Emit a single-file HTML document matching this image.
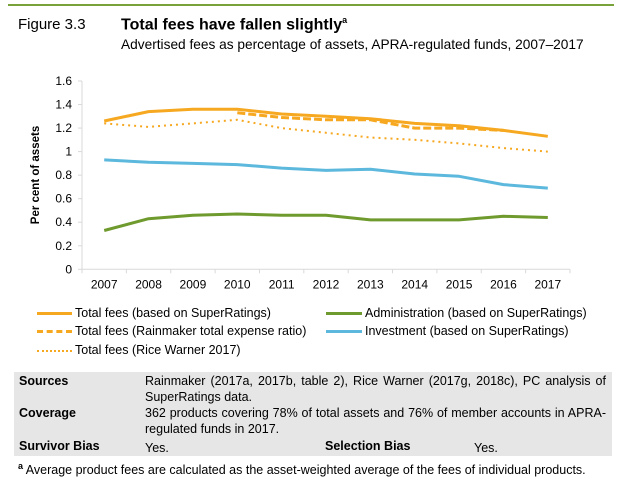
<!DOCTYPE html>
<html><head><meta charset="utf-8">
<style>
body{margin:0;width:622px;height:481px;background:#fff;font-family:"Liberation Sans",Arial,sans-serif;position:relative;overflow:hidden;color:#000}
.abs{position:absolute;white-space:nowrap}
.t{font-size:12.5px;line-height:14px}
</style></head><body>
<div style="position:absolute;left:8px;top:4px;width:606px;height:2px;background:#7aa23a"></div>
<div class="abs" style="left:18px;top:16px;font-size:15px">Figure 3.3</div>
<div class="abs" style="left:121px;top:15px;font-size:16px;font-weight:bold">Total fees have fallen slightly<sup style="font-size:9px">a</sup></div>
<div class="abs" style="left:121px;top:37px;font-size:13.7px">Advertised fees as percentage of assets, APRA-regulated funds, 2007–2017</div>
<svg id="chart" width="622" height="300" style="position:absolute;left:0;top:0" font-family="Liberation Sans, Arial, sans-serif"></svg>

<div>
<div class="abs t" style="left:37px;top:306px"><span style="display:inline-block;width:35px;border-top:3px solid #f6a821;vertical-align:middle;margin-right:3px"></span>Total fees (based on SuperRatings)</div>
<div class="abs t" style="left:37px;top:324px"><span style="display:inline-block;width:35px;border-top:3px dashed #f6a821;vertical-align:middle;margin-right:3px"></span>Total fees (Rainmaker total expense ratio)</div>
<div class="abs t" style="left:37px;top:343px"><span style="display:inline-block;width:35px;border-top:2px dotted #f6a821;vertical-align:middle;margin-right:3px"></span>Total fees (Rice Warner 2017)</div>
<div class="abs t" style="left:326px;top:306px"><span style="display:inline-block;width:36px;border-top:3px solid #6f9a2e;vertical-align:middle;margin-right:3px"></span>Administration (based on SuperRatings)</div>
<div class="abs t" style="left:326px;top:324px"><span style="display:inline-block;width:36px;border-top:3px solid #5cb8dc;vertical-align:middle;margin-right:3px"></span>Investment (based on SuperRatings)</div>
</div>

<div style="position:absolute;left:14px;top:372px;width:598px;height:84px;background:#e6e6e6;font-size:12.5px">
<div class="abs" style="left:5px;top:2px;font-weight:bold">Sources</div>
<div style="position:absolute;left:131px;top:1px;width:461px;text-align:justify;line-height:16px">Rainmaker (2017a, 2017b, table 2), Rice Warner (2017g, 2018c), PC analysis of SuperRatings data.</div>
<div class="abs" style="left:5px;top:34px;font-weight:bold">Coverage</div>
<div style="position:absolute;left:131px;top:33px;width:461px;text-align:justify;line-height:16px">362 products covering 78% of total assets and 76% of member accounts in APRA-regulated funds in 2017.</div>
<div class="abs" style="left:5px;top:67px;font-weight:bold">Survivor Bias</div>
<div class="abs" style="left:131px;top:69px">Yes.</div>
<div class="abs" style="left:311px;top:67px;font-weight:bold">Selection Bias</div>
<div class="abs" style="left:460px;top:69px">Yes.</div>
</div>
<div class="abs" style="left:18px;top:461px;font-size:12.5px"><sup style="font-size:9px;font-weight:bold">a</sup> Average product fees are calculated as the asset-weighted average of the fees of individual products.</div>

<script>
const years = ["2007","2008","2009","2010","2011","2012","2013","2014","2015","2016","2017"];
const yTicks = [0,0.2,0.4,0.6,0.8,1,1.2,1.4,1.6];
const totalFees = [1.26,1.34,1.36,1.36,1.32,1.30,1.28,1.24,1.22,1.18,1.13];
const rainmaker = [null,null,null,1.33,1.29,1.27,1.27,1.20,1.20,1.18,null];
const riceWarner = [1.24,1.21,1.24,1.27,1.20,1.16,1.12,1.10,1.07,1.03,1.00];
const investment = [0.93,0.91,0.90,0.89,0.86,0.84,0.85,0.81,0.79,0.72,0.69];
const administration = [0.33,0.43,0.46,0.47,0.46,0.46,0.42,0.42,0.42,0.45,0.44];

const svg = document.getElementById('chart');
const NS = 'http://www.w3.org/2000/svg';
const X0 = 82, X1 = 570, Y0 = 269.3, Y1 = 81;
const band = (X1 - X0) / years.length;
function xs(i){ return X0 + band*(i+0.5); }
function ys(v){ return Y0 - (v/1.6)*(Y0-Y1); }
function mk(tag, attrs){ const e = document.createElementNS(NS, tag); for (const k in attrs) e.setAttribute(k, attrs[k]); svg.appendChild(e); return e; }

const yAxis = mk('line',{x1:X0,y1:Y1,x2:X0,y2:Y0,stroke:'#d9d9d9'});


const xAxis = mk('line',{x1:X0,y1:Y0,x2:X1,y2:Y0,stroke:'#d9d9d9'});


yTicks.forEach(v => {
  const y = ys(v);
  mk('line',{x1:X0-4,y1:y,x2:X0,y2:y,stroke:'#d9d9d9'});
  const t = mk('text',{x:X0-10,y:y+4,'text-anchor':'end','font-size':12,fill:'#000'});
  t.textContent = String(v);
  
  
});
for (let i=0;i<=years.length;i++){
  const x = X0 + band*i;
  mk('line',{x1:x,y1:Y0,x2:x,y2:Y0+4,stroke:'#d9d9d9'});
}
years.forEach((yr,i) => {
  const t = mk('text',{x:xs(i),y:Y0+19,'text-anchor':'middle','font-size':12,fill:'#000'});
  t.textContent = yr;
  
  
});
const yt = mk('text',{x:0,y:0,'text-anchor':'middle','font-size':11.5,'font-weight':'bold',transform:'translate(39,175) rotate(-90)'});
yt.textContent = 'Per cent of assets';



function line(data, color, w, dash, name){
  let d = '';
  let pen = false;
  data.forEach((v,i) => {
    if (v === null) { pen = false; return; }
    d += (pen ? 'L' : 'M') + xs(i).toFixed(1) + ' ' + ys(v).toFixed(1) + ' ';
    pen = true;
  });
  const p = mk('path',{d:d,fill:'none',stroke:color,'stroke-width':w,'stroke-linejoin':'round'});
  if (dash) p.setAttribute('stroke-dasharray', dash);
  
  
}
line(administration,'#6f9a2e',3,null,'series-administration');
line(investment,'#5cb8dc',3,null,'series-investment');
line(riceWarner,'#f6a821',2,'2 4','series-rice-warner');
line(rainmaker,'#f6a821',3,'8 3','series-rainmaker');
line(totalFees,'#f6a821',3,null,'series-total-fees');
</script>
</body></html>
